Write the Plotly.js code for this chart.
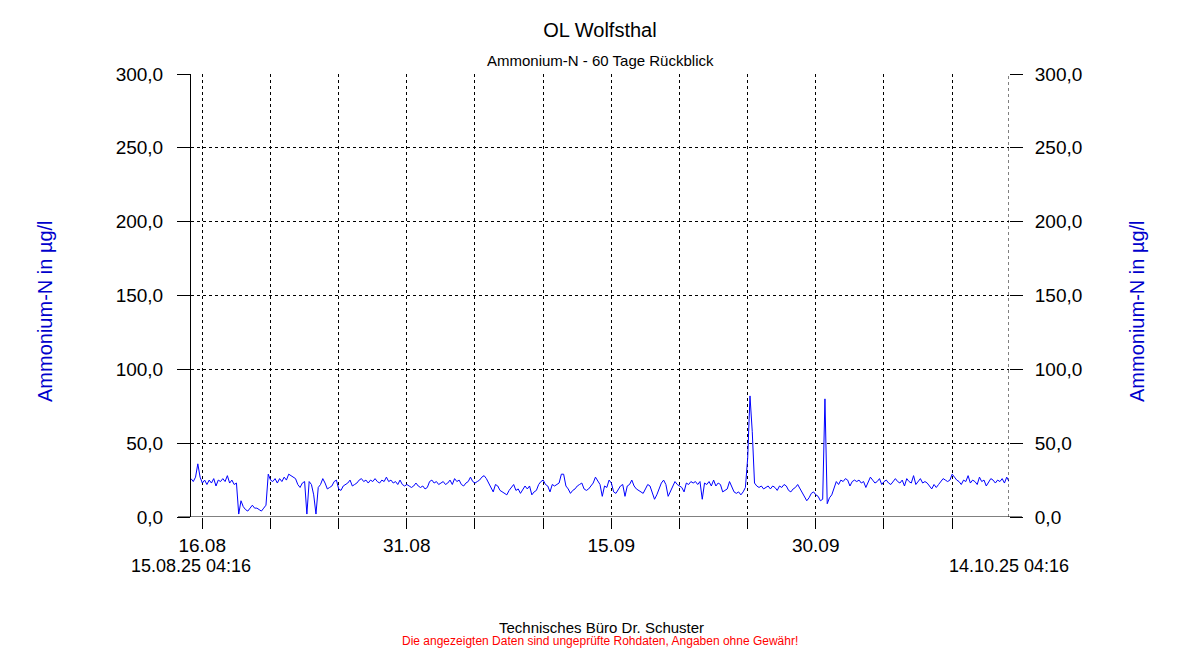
<!DOCTYPE html>
<html>
<head>
<meta charset="utf-8">
<script src="https://cdn.plot.ly/plotly-3.0.1.min.js"></script>
<style>html,body{margin:0;padding:0;background:#fff;}#chart{width:1200px;height:650px;}</style>
</head>
<body>
<div id="chart"></div>
<script>
// Sampling: every 4 hours from 15.08.25 04:16 to 14.10.25 04:16
const startTime = "2025-08-15T04:16:00Z";
const endTime = "2025-10-14T04:16:00Z";
const stepHours = 4;

// Ammonium-N values (µg/l), in chronological chunks
const valuesAug15to27 = [
  26,24,27,36,27,23,25,22,25,23,
  26,21,25,24,26,24,28,23,25,22,
  23,2,11,7,5,4,6,8,6,6,
  5,4,6,8,29,25,24,26,23,26,
  24,27,25,29,28,27,26,22,20,23,
  24,2,24,22,15,2,20,22,26,23,
  19,20,21,24,25,19,18,21,22,23,
  25,21
];
const valuesAug27toSep08 = [
  22,23,25,26,24,25,23,25,24,26,
  24,23,25,24,27,24,25,23,24,22,
  25,22,21,22,21,20,21,23,21,20,
  21,19,20,24,25,23,24,22,23,24,
  22,23,25,22,26,24,25,22,21,23,
  24,27,24,23,24,25,27,28,26,23,
  21,17,22,21,18,17,16,15,18,20,
  22,18,19
];
const valuesSep08to20 = [
  16,19,21,19,21,15,17,18,22,24,
  25,22,21,17,22,21,22,23,29,29,
  21,19,16,18,19,21,22,23,19,18,
  19,21,23,27,24,22,14,21,20,25,
  23,17,16,19,21,22,14,21,22,25,
  21,19,18,17,16,19,22,21,16,12,
  15,19,23,25,22,14,17,21,24,22,
  21,20
];
const valuesSep20toOct02 = [
  17,23,22,24,23,24,22,24,12,23,
  22,24,21,25,21,23,22,17,18,19,
  24,20,17,16,17,15,17,20,40,82,
  58,23,21,20,21,19,20,21,19,21,
  20,18,21,20,22,21,18,17,19,20,
  22,19,17,13,11,13,16,17,15,14,
  11,12,80,9,13,15,20,24,22,25,
  24,26
];
const valuesOct02to14 = [
  25,21,24,25,24,25,23,24,20,24,
  27,25,23,24,26,22,24,25,23,22,
  24,26,24,23,25,21,26,24,23,28,
  22,24,26,23,24,23,21,19,22,20,
  22,24,26,25,24,25,29,27,25,24,
  22,25,24,28,23,25,24,22,27,24,
  25,21,24,26,25,23,25,24,26,23,
  27,24
];

// Axis ticks
const xTickVals = ["2025-08-16","2025-08-21","2025-08-26","2025-08-31","2025-09-05","2025-09-10",
                   "2025-09-15","2025-09-20","2025-09-25","2025-09-30","2025-10-05","2025-10-10"];
const xTickText = ["16.08","","","31.08","","","15.09","","","30.09","",""];
const yTickVals = [0,50,100,150,200,250,300];
const yTickText = ["0,0","50,0","100,0","150,0","200,0","250,0","300,0"];

const startLabel = "15.08.25 04:16";
const endLabel = "14.10.25 04:16";

// ---------------------------------------------------------------
const values = [].concat(valuesAug15to27, valuesAug27toSep08, valuesSep08to20, valuesSep20toOct02, valuesOct02to14);
function fmt(d){ return d.toISOString().slice(0,16).replace("T"," "); }
const t0 = new Date(startTime).getTime();
const times = values.map((v,i) => fmt(new Date(t0 + i*stepHours*3600*1000)));
const xStart = fmt(new Date(startTime));
const xEnd = fmt(new Date(endTime));

const FONT = "Arial, 'Liberation Sans', sans-serif";
const BLUE_TITLE = "#0000CC";
const dash = "3px,3px";

const traces = [
  {x: times, y: values, type: "scatter", mode: "lines",
   line: {color: "#0000FF", width: 1}, hoverinfo: "skip", showlegend: false},
  {x: [], y: [], type: "scatter", mode: "lines", yaxis: "y2", showlegend: false, hoverinfo: "skip"}
];

const plotL = 191, plotR = 1009, plotT = 74, plotB = 517;
const pw = plotR - plotL, ph = plotB - plotT;
const px = v => (v - plotL) / pw;
const py = v => (plotB - v) / ph;

const layout = {
  width: 1200, height: 650,
  margin: {l: plotL, r: 1200 - plotR, t: plotT, b: 650 - plotB, pad: 0},
  paper_bgcolor: "#fff", plot_bgcolor: "#fff",
  showlegend: false,
  font: {family: FONT, color: "#000"},
  title: {text: "OL Wolfsthal", font: {family: FONT, size: 20, color: "#000"},
          x: 0.5, xanchor: "center", xref: "paper", y: 1 - 30/650, yref: "container", yanchor: "middle"},
  xaxis: {
    type: "date", range: [xStart, xEnd],
    tickmode: "array", tickvals: xTickVals, ticktext: xTickText,
    ticks: "outside", ticklen: 11, tickwidth: 1, tickcolor: "#000",
    tickfont: {family: FONT, size: 19, color: "#000"}, ticklabelstandoff: 0,
    showgrid: true, gridcolor: "#000", gridwidth: 1, griddash: dash,
    showline: false, zeroline: false, fixedrange: true
  },
  yaxis: {
    range: [0, 300], tickmode: "array", tickvals: yTickVals, ticktext: yTickText,
    ticks: "outside", ticklen: 13, tickwidth: 1, tickcolor: "#000",
    tickfont: {family: FONT, size: 19, color: "#000"}, ticklabelstandoff: 10,
    showgrid: true, gridcolor: "#000", gridwidth: 1, griddash: dash,
    showline: true, linecolor: "#000", linewidth: 1, zeroline: false, fixedrange: true
  },
  yaxis2: {
    overlaying: "y", side: "right", range: [0, 300],
    tickmode: "array", tickvals: yTickVals, ticktext: yTickText,
    ticks: "outside", ticklen: 13, tickwidth: 1, tickcolor: "#000",
    tickfont: {family: FONT, size: 19, color: "#000"}, ticklabelstandoff: 8,
    showgrid: false, showline: false, zeroline: false, fixedrange: true
  },
  shapes: [
    {type: "line", xref: "paper", yref: "y", x0: px(178), x1: px(1022), y0: 0, y1: 0,
     line: {color: "#000", width: 1}},
    {type: "line", xref: "x", yref: "y", x0: xEnd, x1: xEnd, y0: 0, y1: 300,
     line: {color: "#000", width: 1, dash: dash}}
  ],
  annotations: [
    {text: "Ammonium-N - 60 Tage Rückblick", xref: "paper", yref: "paper", x: 0.5, y: py(60),
     xanchor: "center", yanchor: "middle", showarrow: false, font: {family: FONT, size: 15, color: "#000"}},
    {text: "Ammonium-N in µg/l", xref: "paper", yref: "paper", x: px(45), y: py(311), textangle: -90,
     xanchor: "center", yanchor: "middle", showarrow: false, font: {family: FONT, size: 20, color: BLUE_TITLE}},
    {text: "Ammonium-N in µg/l", xref: "paper", yref: "paper", x: px(1137), y: py(311), textangle: -90,
     xanchor: "center", yanchor: "middle", showarrow: false, font: {family: FONT, size: 20, color: BLUE_TITLE}},
    {text: startLabel, xref: "x", yref: "paper", x: xStart, y: py(566),
     xanchor: "center", yanchor: "middle", showarrow: false, font: {family: FONT, size: 18, color: "#000"}},
    {text: endLabel, xref: "x", yref: "paper", x: xEnd, y: py(566),
     xanchor: "center", yanchor: "middle", showarrow: false, font: {family: FONT, size: 18, color: "#000"}},
    {text: "Technisches Büro Dr. Schuster", xref: "paper", yref: "paper", x: px(601), y: py(627),
     xanchor: "center", yanchor: "middle", showarrow: false, font: {family: FONT, size: 15, color: "#000"}},
    {text: "Die angezeigten Daten sind ungeprüfte Rohdaten, Angaben ohne Gewähr!", xref: "paper", yref: "paper",
     x: px(600), y: py(641), xanchor: "center", yanchor: "middle", showarrow: false,
     font: {family: FONT, size: 12, color: "#FF0000"}}
  ]
};

Plotly.newPlot("chart", traces, layout, {staticPlot: true, displayModeBar: false});
</script>
</body>
</html>
